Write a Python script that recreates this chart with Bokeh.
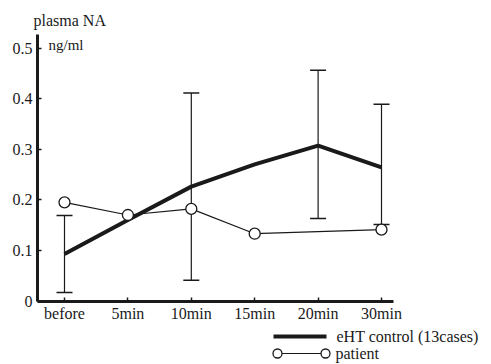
from bokeh.plotting import figure
from bokeh.models import (ColumnDataSource, Whisker, TeeHead, FixedTicker, Label, Range1d)
from bokeh.core.properties import value
from bokeh.embed import file_html
from bokeh.resources import INLINE

# ---- data ----
categories = ["before", "5min", "10min", "15min", "20min", "30min"]
control_values = [0.093, 0.16, 0.226, 0.27, 0.307, 0.264]
err_categories = ["before", "10min", "20min", "30min"]
err_lower = [0.017, 0.041, 0.163, 0.151]
err_upper = [0.169, 0.411, 0.456, 0.389]
patient_categories = ["before", "5min", "10min", "15min", "30min"]
patient_values = [0.195, 0.17, 0.182, 0.133, 0.141]
y_ticks = [0, 0.1, 0.2, 0.3, 0.4, 0.5]
y_tick_labels = ["0", "0.1", "0.2", "0.3", "0.4", "0.5"]
legend_labels = ["eHT control (13cases)", "patient"]

FONT = "Liberation Serif"
INK = "#1a1a1a"
W, H = 491, 364

# layout geometry (pixels): where category 0 / value 0 sit, and the scale
X0_PX, X_STEP = 64.0, 63.4
Y0_PX, Y_UNIT = 300.5, 506.0
def dx(px):
    return (px - X0_PX) / X_STEP
def dy(py):
    return (Y0_PX - py) / Y_UNIT

pos = {c: i for i, c in enumerate(categories)}

ctrl_src = ColumnDataSource(dict(x=[pos[c] for c in categories], y=control_values))
err_src = ColumnDataSource(dict(x=[pos[c] for c in err_categories], lo=err_lower, hi=err_upper))
pat_src = ColumnDataSource(dict(x=[pos[c] for c in patient_categories], y=patient_values))

x_lo, x_hi = dx(37), dx(393)     # drawn extent of the x axis
y_lo, y_hi = 0.0, dy(34)         # drawn extent of the y axis

p = figure(width=W, height=H, output_backend="svg", toolbar_location=None,
           x_range=Range1d(dx(0), dx(W)), y_range=Range1d(dy(H), dy(0)),
           min_border=0, min_border_left=0, min_border_right=0,
           min_border_top=0, min_border_bottom=0)
p.outline_line_color = None
p.grid.visible = False
p.background_fill_color = "white"
p.border_fill_color = "white"

# axes pinned inside the frame
for ax in (p.xaxis[0], p.yaxis[0]):
    ax.axis_line_width = 3
    ax.axis_line_color = INK
    ax.major_tick_line_color = INK
    ax.major_tick_line_width = 1.5
    ax.major_tick_in = 4
    ax.major_tick_out = 0
    ax.minor_tick_line_color = None
    ax.major_label_text_font = FONT
    ax.major_label_text_font_size = "16px"
    ax.major_label_text_color = INK
p.xaxis.fixed_location = 0
p.xaxis.bounds = (x_lo, x_hi)
p.yaxis.fixed_location = x_lo
p.yaxis.bounds = (y_lo, y_hi)
p.yaxis.major_label_standoff = 5
p.xaxis.major_label_standoff = 4

p.xaxis.ticker = FixedTicker(ticks=list(range(len(categories))))
p.xaxis.major_label_overrides = {i: c for i, c in enumerate(categories)}
p.yaxis.ticker = FixedTicker(ticks=y_ticks)
p.yaxis.major_label_overrides = {t: l for t, l in zip(y_ticks, y_tick_labels)}

# control line
p.line("x", "y", source=ctrl_src, line_width=4, line_color=INK)
# patient line
p.line("x", "y", source=pat_src, line_width=1.2, line_color=INK)

# error bars
w = Whisker(base="x", lower="lo", upper="hi", source=err_src, line_color=INK, line_width=1.2,
            upper_head=TeeHead(size=16, line_color=INK, line_width=1.5),
            lower_head=TeeHead(size=16, line_color=INK, line_width=1.5))
p.add_layout(w)

p.scatter("x", "y", source=pat_src, size=11, marker="circle",
          fill_color="white", line_color=INK, line_width=1.3)

# title and unit
p.add_layout(Label(x=dx(33), y=dy(20), text="plasma NA", text_font=FONT, text_font_size="16px",
                   text_color=INK, text_baseline="alphabetic"))
p.add_layout(Label(x=dx(48), y=dy(44), text="ng/ml", text_font=FONT, text_font_size="15px",
                   text_color=INK, text_baseline="middle"))

# legend (bottom right, below the axis)
key_src = ColumnDataSource(dict(x0=[dx(273), dx(277)], x1=[dx(326), dx(325)],
                                y=[dy(336), dy(353)], lw=[4, 1.2],
                                tx=[dx(336), dx(335)], label=legend_labels))
p.segment(x0="x0", y0="y", x1="x1", y1="y", source=key_src, line_width="lw", line_color=INK)
p.scatter(x=[dx(277), dx(325)], y=[dy(353), dy(353)], size=9, marker="circle",
          fill_color="white", line_color=INK, line_width=1.3)
p.text(x="tx", y="y", text="label", source=key_src, text_font=value(FONT),
       text_font_size="16px", text_color=INK, text_baseline="middle")

open("out.html", "w").write(file_html(p, INLINE))
